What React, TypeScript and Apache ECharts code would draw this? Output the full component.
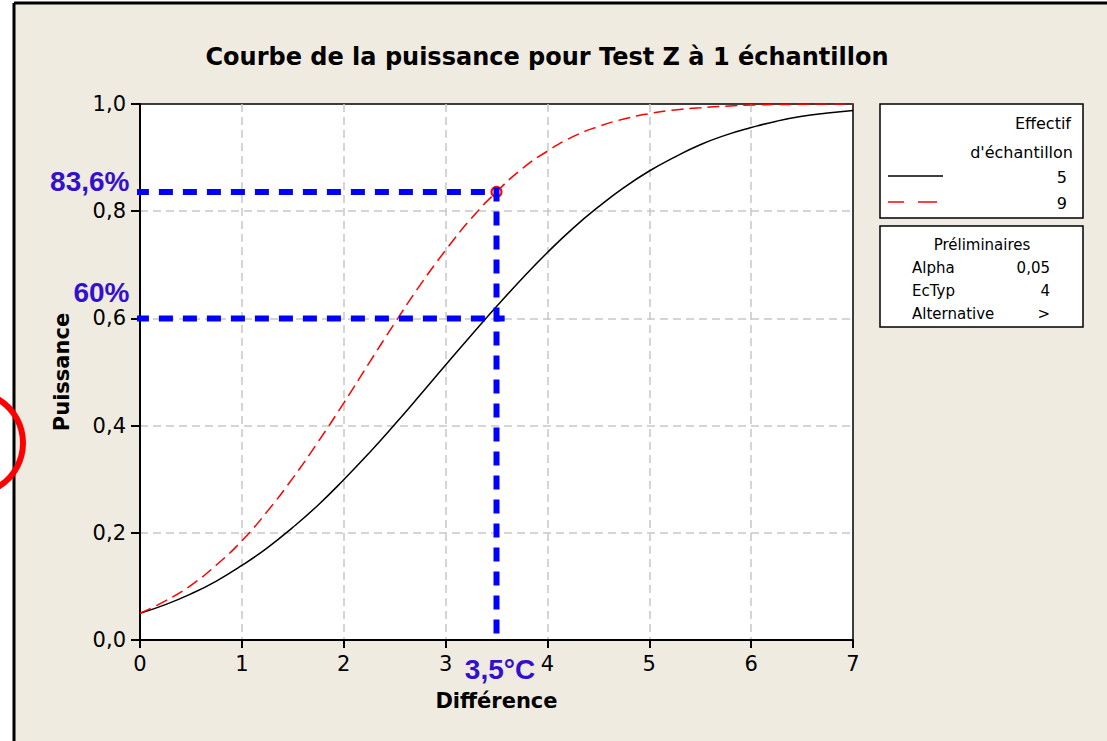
import React, { useEffect, useRef } from "react";
import * as echarts from "echarts";

const differences = [0, 0.25, 0.5, 0.75, 1, 1.25, 1.5, 1.75, 2, 2.25, 2.5, 2.75, 3, 3.25, 3.5, 3.75, 4, 4.25, 4.5, 4.75, 5, 5.25, 5.5, 5.75, 6, 6.25, 6.5, 6.75, 7];
const power5 = [0.05, 0.066, 0.086, 0.11, 0.139, 0.172, 0.21, 0.252, 0.299, 0.349, 0.402, 0.457, 0.513, 0.568, 0.622, 0.674, 0.723, 0.768, 0.808, 0.844, 0.875, 0.901, 0.924, 0.942, 0.956, 0.968, 0.977, 0.983, 0.988];
const power9 = [0.05, 0.073, 0.102, 0.14, 0.185, 0.24, 0.302, 0.37, 0.442, 0.517, 0.591, 0.662, 0.727, 0.786, 0.836, 0.879, 0.912, 0.939, 0.958, 0.972, 0.982, 0.989, 0.993, 0.996, 0.998, 0.999, 0.9995, 1.0, 1.0];

const sampleSizes = ["5", "9"];
const annotDiff = 3.5;
const annotPowers = [0.836, 0.6];
const annotLabels = ["83,6%", "60%"];
const diffLabel = "3,5°C";
const prelimNames = ["Alpha", "EcTyp", "Alternative"];
const prelimValues = ["0,05", "4", ">"];

const BEIGE = "#efebe1";
const BLUE = "#0000ff";
const BLUE_TEXT = "#3311cc";

export default function App() {
  const ref = useRef<HTMLDivElement>(null);
  useEffect(() => {
    if (!ref.current) return;
    const chart = echarts.init(ref.current, undefined, { renderer: "svg" });
    const fmt = (v: number) => v.toFixed(1).replace(".", ",");
    const blueLine = (data: number[][]) => ({
      type: "line",
      data,
      showSymbol: false,
      symbol: "none",
      clip: false,
      z: 5,
      lineStyle: { color: BLUE, width: 6, type: [14, 10] },
      silent: true,
    });
    const legendX = 880;
    const splitStyle = { show: true, showMinLine: false, showMaxLine: false, lineStyle: { color: "#c8c8c8", width: 1.5, type: [8, 5] } };
    const option: any = {
      animation: false,
      backgroundColor: BEIGE,
      grid: {
        left: 140,
        top: 104,
        width: 713,
        height: 536,
        show: true,
        backgroundColor: "#ffffff",
        borderColor: "#000",
        borderWidth: 1.5,
      },
      xAxis: {
        type: "value",
        min: 0,
        max: 7,
        interval: 1,
        name: "Différence",
        nameLocation: "middle",
        nameGap: 50,
        nameTextStyle: { fontFamily: "DejaVu Sans", fontWeight: "bold", fontSize: 21, color: "#000" },
        axisLine: { lineStyle: { color: "#000", width: 2 } },
        axisTick: { length: 8, lineStyle: { color: "#000", width: 2 } },
        axisLabel: { fontFamily: "DejaVu Sans", fontSize: 21, color: "#000", margin: 13 },
        splitLine: splitStyle,
      },
      yAxis: {
        type: "value",
        min: 0,
        max: 1,
        interval: 0.2,
        name: "Puissance",
        nameLocation: "middle",
        nameGap: 68,
        nameTextStyle: { fontFamily: "DejaVu Sans", fontWeight: "bold", fontSize: 21, color: "#000" },
        axisLine: { lineStyle: { color: "#000", width: 2 } },
        axisTick: { length: 9, lineStyle: { color: "#000", width: 2 } },
        axisLabel: { fontFamily: "DejaVu Sans", fontSize: 21, color: "#000", margin: 14, formatter: fmt },
        splitLine: splitStyle,
      },
      series: [
        {
          type: "line",
          name: sampleSizes[0],
          data: differences.map((d, i) => [d, power5[i]]),
          showSymbol: false,
          smooth: true,
          z: 3,
          lineStyle: { color: "#000", width: 1.5 },
        },
        {
          type: "line",
          name: sampleSizes[1],
          data: differences.map((d, i) => [d, power9[i]]),
          showSymbol: false,
          smooth: true,
          z: 3,
          lineStyle: { color: "#ff0000", width: 1.5, type: [12, 6] },
        },
        {
          type: "scatter",
          data: [[annotDiff, annotPowers[0]]],
          symbol: "emptyCircle",
          symbolSize: 10,
          z: 4,
          itemStyle: { color: "#ff0000", borderColor: "#ff0000", borderWidth: 2, opacity: 1 },
        },
        blueLine([[-0.05, annotPowers[0]], [annotDiff, annotPowers[0]]]),
        blueLine([[-0.05, annotPowers[1]], [annotDiff + 0.08, annotPowers[1]]]),
        blueLine([[annotDiff, annotPowers[0] + 0.008], [annotDiff, -0.006]]),
        {
          type: "scatter",
          clip: false,
          symbolSize: 1,
          z: 6,
          silent: true,
          itemStyle: { color: "transparent", opacity: 1 },
          data: [
            {
              value: [0, annotPowers[0]],
              label: { show: true, formatter: annotLabels[0], position: [-10, -10] },
            },
            {
              value: [0, annotPowers[1]],
              label: { show: true, formatter: annotLabels[1], position: [-10, -25] },
            },
            {
              value: [annotDiff, 0],
              label: { show: true, formatter: diffLabel, position: [4, 30], align: "center" },
            },
          ],
          label: {
            show: true,
            align: "right",
            verticalAlign: "middle",
            fontFamily: "Liberation Sans",
            fontWeight: "bold",
            fontSize: 28,
            color: BLUE_TEXT,
            opacity: 1,
            textBorderWidth: 0,
          },
        },
      ],
      graphic: [
        { type: "rect", shape: { x: 0, y: 0, width: 14, height: 741 }, style: { fill: "#fff" }, z: 100 },
        { type: "rect", shape: { x: 0, y: 0, width: 1107, height: 3 }, style: { fill: "#fff" }, z: 100 },
        { type: "line", shape: { x1: 14, y1: 3, x2: 14, y2: 741 }, style: { stroke: "#000", lineWidth: 3 }, z: 101 },
        { type: "line", shape: { x1: 14, y1: 3, x2: 1107, y2: 3 }, style: { stroke: "#000", lineWidth: 3 }, z: 101 },
        { type: "circle", shape: { cx: -28, cy: 443, r: 51 }, style: { fill: "none", stroke: "#ff0000", lineWidth: 6 }, z: 102 },
        {
          type: "text",
          x: 547,
          y: 57,
          style: {
            text: "Courbe de la puissance pour Test Z à 1 échantillon",
            fontFamily: "DejaVu Sans",
            fontWeight: "bold",
            fontSize: 24,
            fill: "#000",
            align: "center",
            verticalAlign: "middle",
          },
        },
        { type: "rect", shape: { x: legendX, y: 104, width: 203, height: 114 }, style: { fill: "#fff", stroke: "#000", lineWidth: 1.5 } },
        { type: "text", x: 1071, y: 123, style: { text: "Effectif", fontFamily: "DejaVu Sans", fontSize: 16, fill: "#000", align: "right", verticalAlign: "middle" } },
        { type: "text", x: 1073, y: 152, style: { text: "d'échantillon", fontFamily: "DejaVu Sans", fontSize: 16, fill: "#000", align: "right", verticalAlign: "middle" } },
        { type: "line", shape: { x1: 888, y1: 176, x2: 943, y2: 176 }, style: { stroke: "#000", lineWidth: 1.5 } },
        { type: "text", x: 1067, y: 177, style: { text: sampleSizes[0], fontFamily: "DejaVu Sans", fontSize: 16, fill: "#000", align: "right", verticalAlign: "middle" } },
        { type: "line", shape: { x1: 888, y1: 202, x2: 904, y2: 202 }, style: { stroke: "#ff0000", lineWidth: 1.5 } },
        { type: "line", shape: { x1: 918, y1: 202, x2: 937, y2: 202 }, style: { stroke: "#ff0000", lineWidth: 1.5 } },
        { type: "text", x: 1067, y: 203, style: { text: sampleSizes[1], fontFamily: "DejaVu Sans", fontSize: 16, fill: "#000", align: "right", verticalAlign: "middle" } },
        { type: "rect", shape: { x: legendX, y: 226, width: 203, height: 101 }, style: { fill: "#fff", stroke: "#000", lineWidth: 1.5 } },
        { type: "text", x: 982, y: 245, style: { text: "Préliminaires", fontFamily: "DejaVu Sans", fontSize: 15, fill: "#000", align: "center", verticalAlign: "middle" } },
        ...prelimNames.map((n, i) => ({
          type: "text",
          x: 912,
          y: 268 + i * 23,
          style: { text: n, fontFamily: "DejaVu Sans", fontSize: 15, fill: "#000", align: "left", verticalAlign: "middle" },
        })),
        ...prelimValues.map((v, i) => ({
          type: "text",
          x: 1050,
          y: 268 + i * 23,
          style: { text: v, fontFamily: "DejaVu Sans", fontSize: 15, fill: "#000", align: "right", verticalAlign: "middle" },
        })),
      ],
    };
    chart.setOption(option);
    return () => chart.dispose();
  }, []);
  return <div ref={ref} style={{ position: "absolute", left: 0, top: 0, width: 1107, height: 741 }} />;
}
